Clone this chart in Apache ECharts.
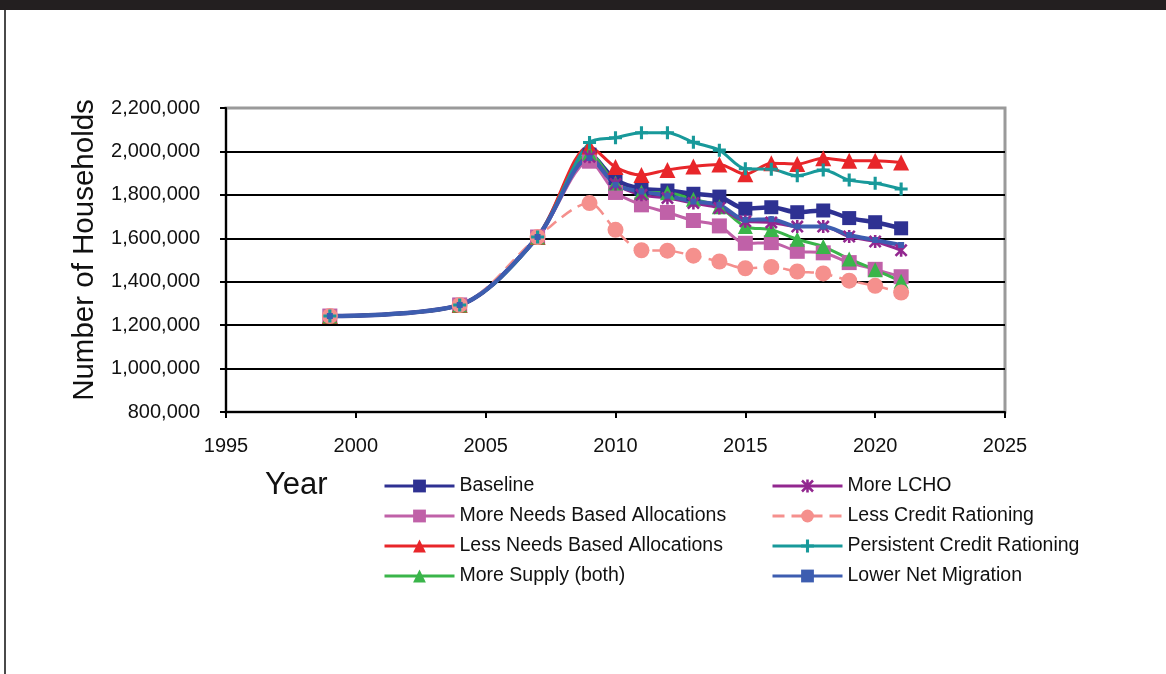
<!DOCTYPE html>
<html>
<head>
<meta charset="utf-8">
<script src="https://cdn.jsdelivr.net/npm/echarts@6/dist/echarts.min.js"></script>
<style>
html,body{margin:0;padding:0;background:#fff;}
#chart{width:1166px;height:674px;}
</style>
</head>
<body>
<div id="chart"></div>
<script>
// ---- data ----
const years = [1999, 2004, 2007, 2009, 2010, 2011, 2012, 2013, 2014, 2015, 2016, 2017, 2018, 2019, 2020, 2021];
const seriesNames = ['Baseline', 'More Needs Based Allocations', 'Less Needs Based Allocations', 'More Supply (both)',
  'More LCHO', 'Less Credit Rationing', 'Persistent Credit Rationing', 'Lower Net Migration'];
const baseline = [1242000, 1293000, 1606000, 1985000, 1869000, 1828000, 1820000, 1805000, 1792000, 1736000, 1743000, 1720000, 1728000, 1693000, 1674000, 1646000];
const moreNeeds = [1242000, 1293000, 1606000, 1955000, 1811000, 1754000, 1719000, 1682000, 1657000, 1577000, 1580000, 1540000, 1533000, 1488000, 1457000, 1423000];
const lessNeeds = [1242000, 1293000, 1606000, 2023000, 1928000, 1892000, 1915000, 1931000, 1940000, 1895000, 1946000, 1942000, 1969000, 1957000, 1957000, 1949000];
const moreSupply = [1242000, 1293000, 1606000, 1992000, 1855000, 1812000, 1810000, 1780000, 1745000, 1654000, 1640000, 1595000, 1562000, 1505000, 1455000, 1402000];
const moreLCHO = [1242000, 1293000, 1606000, 1975000, 1850000, 1800000, 1785000, 1762000, 1739000, 1678000, 1673000, 1654000, 1654000, 1608000, 1585000, 1545000];
const lessCredit = [1242000, 1293000, 1606000, 1762000, 1639000, 1545000, 1543000, 1520000, 1493000, 1462000, 1468000, 1447000, 1438000, 1405000, 1381000, 1350000];
const persistent = [1242000, 1293000, 1606000, 2041000, 2063000, 2086000, 2086000, 2042000, 2006000, 1920000, 1918000, 1888000, 1914000, 1868000, 1853000, 1827000];
const lowerMigration = [1242000, 1293000, 1606000, 1970000, 1846000, 1815000, 1796000, 1769000, 1754000, 1685000, 1688000, 1654000, 1654000, 1615000, 1592000, 1569000];
const xTicks = [1995, 2000, 2005, 2010, 2015, 2020, 2025];
const yTicks = [800000, 1000000, 1200000, 1400000, 1600000, 1800000, 2000000, 2200000];

const FONT = '"Liberation Sans", Arial, sans-serif';
const plusPath = 'path://M3.8,0h2.4v3.8h3.8v2.4h-3.8v3.8h-2.4v-3.8h-3.8v-2.4h3.8z';
const starPath = 'path://M4,0h2v10h-2z M0,1.4L1.4,0L10,8.6L8.6,10Z M8.6,0L10,1.4L1.4,10L0,8.6Z';

function pairs(vals) { return years.map((y, i) => [y, vals[i]]); }
function fmt(v) { return String(v).replace(/\B(?=(\d{3})+(?!\d))/g, ','); }

const styles = [
  { data: baseline, color: '#2e3192', width: 4.5, symbol: 'rect', size: 14 },
  { data: moreNeeds, color: '#c061a8', width: 3, symbol: 'rect', size: 15 },
  { data: lessNeeds, color: '#e8262a', width: 3, symbol: 'triangle', size: 16 },
  { data: moreSupply, color: '#3ab54a', width: 3, symbol: 'triangle', size: 15 },
  { data: moreLCHO, color: '#92278f', width: 3, symbol: starPath, size: 13 },
  { data: lessCredit, color: '#f5908d', width: 2.5, symbol: 'circle', size: 16, dash: [12, 7] },
  { data: persistent, color: '#18999a', width: 3, symbol: plusPath, size: 13 },
  { data: lowerMigration, color: '#3d5db0', width: 4, symbol: 'rect', size: 6 }
];

const series = styles.map((s, i) => ({
  name: seriesNames[i],
  type: 'line',
  data: pairs(s.data),
  smooth: 0.3,
  symbol: s.symbol,
  symbolSize: s.size,
  showAllSymbol: true,
  color: s.color,
  itemStyle: { color: s.color, borderWidth: 0 },
  lineStyle: { color: s.color, width: s.width, type: s.dash ? s.dash : 'solid' },
  emphasis: { disabled: true },
  animation: false
}));

const legendCommon = {
  orient: 'vertical',
  top: 471,
  itemWidth: 70,
  itemHeight: 16,
  itemGap: 10,
  textStyle: { fontFamily: FONT, fontSize: 19.5, color: '#111', lineHeight: 20 },
  lineStyle: { width: 3 }
};

const chart = echarts.init(document.getElementById('chart'), null, { renderer: 'canvas' });
chart.setOption({
  animation: false,
  backgroundColor: '#fff',
  grid: {
    left: 226, right: 161, top: 108, bottom: 262,
    show: true, borderColor: '#9a9a9a', borderWidth: 3, backgroundColor: 'transparent'
  },
  xAxis: {
    type: 'value', min: xTicks[0], max: xTicks[xTicks.length - 1], interval: 5,
    axisLine: { show: true, onZero: false, lineStyle: { color: '#000', width: 2 } },
    axisTick: { show: true, length: 6, lineStyle: { color: '#000', width: 2 } },
    axisLabel: { fontFamily: FONT, fontSize: 20, color: '#111', margin: 24, formatter: v => String(v) },
    splitLine: { show: false }
  },
  yAxis: {
    type: 'value', min: yTicks[0], max: yTicks[yTicks.length - 1], interval: 200000,
    name: 'Number of Households', nameLocation: 'middle', nameGap: 126,
    nameTextStyle: { fontFamily: FONT, fontSize: 29.5, color: '#111', padding: [0, 0, 0, 20] },
    axisLine: { show: true, lineStyle: { color: '#000', width: 2 } },
    axisTick: { show: true, length: 6, lineStyle: { color: '#000', width: 2 } },
    axisLabel: { fontFamily: FONT, fontSize: 20, color: '#111', margin: 26, formatter: v => fmt(v) },
    splitLine: { show: true, showMaxLine: false, showMinLine: false, lineStyle: { color: '#000', width: 2 } }
  },
  legend: [
    Object.assign({}, legendCommon, { left: 378, data: seriesNames.slice(0, 4) }),
    Object.assign({}, legendCommon, { left: 766, data: seriesNames.slice(4) })
  ],
  graphic: [
    { type: 'rect', left: 0, top: 0, shape: { width: 1166, height: 10 }, style: { fill: '#231f20' } },
    { type: 'rect', left: 4, top: 10, shape: { width: 2, height: 664 }, style: { fill: '#4a4a4a' } },
    { type: 'text', left: 265, top: 470, style: { text: 'Year', font: '31px ' + FONT, fill: '#111' } }
  ],
  series: series
});
</script>
</body>
</html>
